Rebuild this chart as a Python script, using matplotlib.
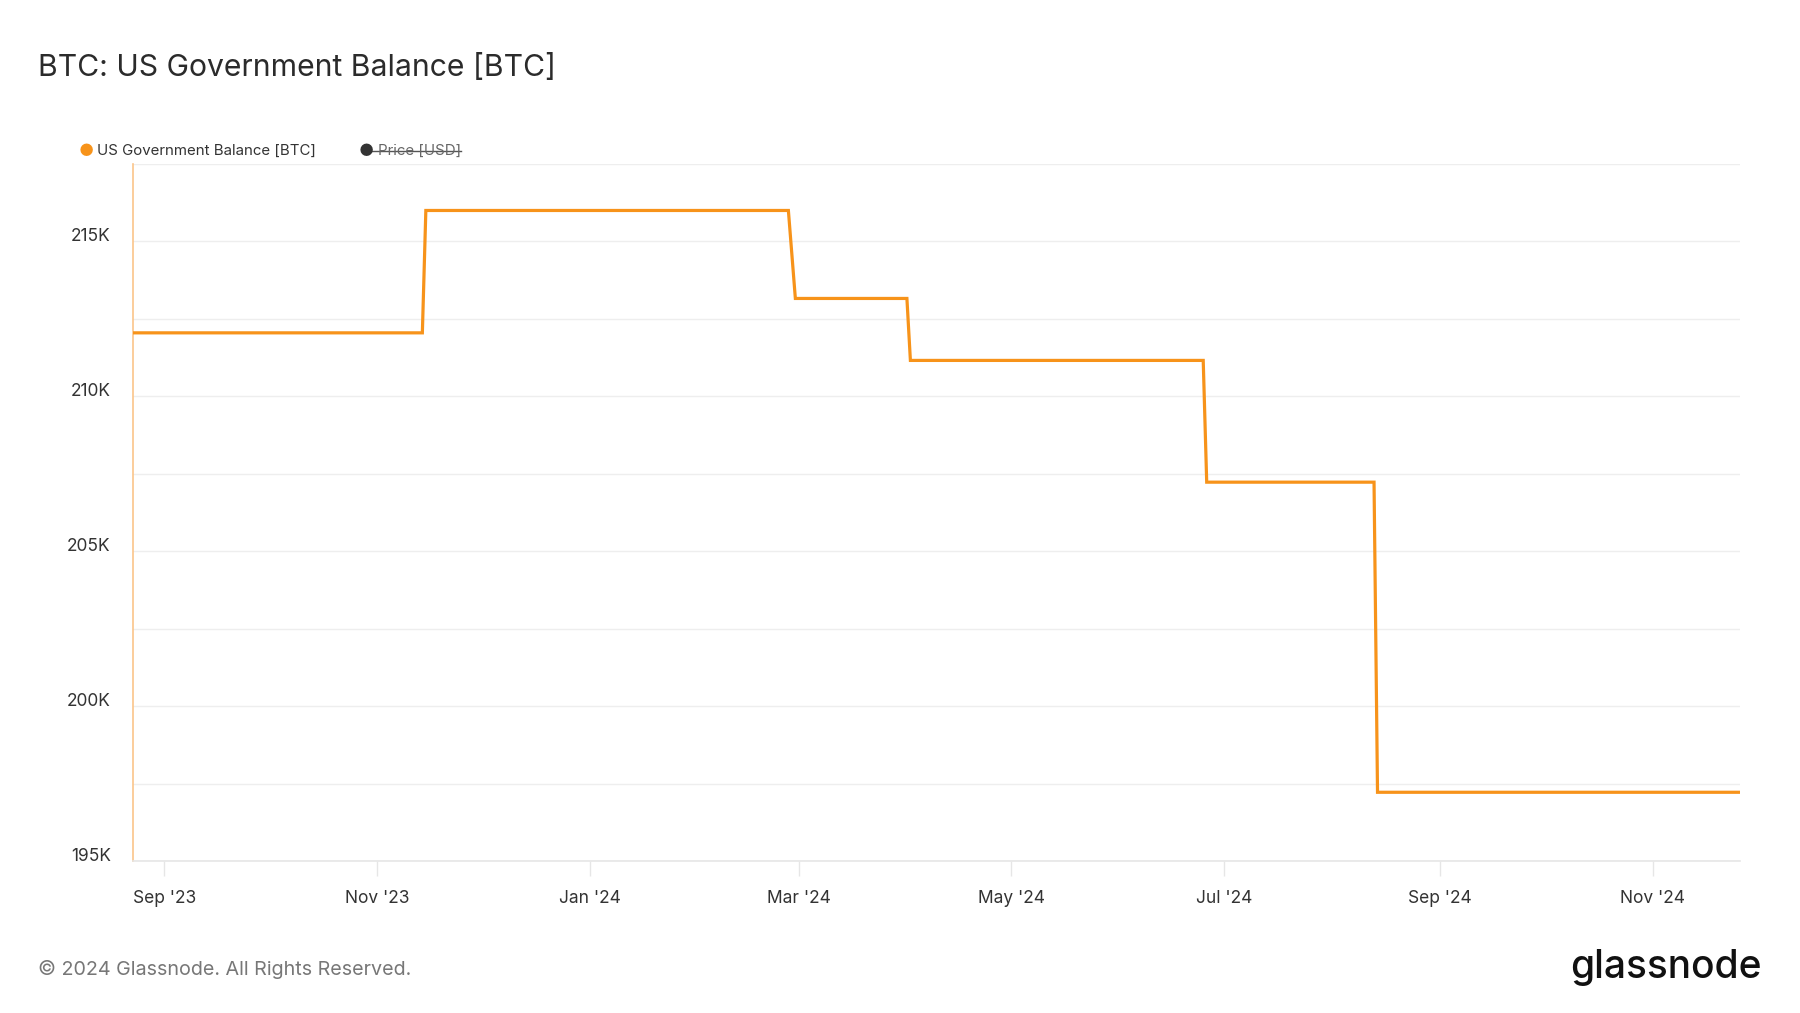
import matplotlib
matplotlib.use("Agg")
import matplotlib.pyplot as plt
import pandas as pd

plt.rcParams['font.family'] = ['Inter', 'DejaVu Sans']

# Step series breakpoints (date, balance in BTC)
dates = ["2023-08-23", "2023-11-14", "2023-11-15", "2024-02-27", "2024-02-29",
         "2024-04-01", "2024-04-02", "2024-06-25", "2024-06-26", "2024-08-13",
         "2024-08-14", "2024-11-26"]
balance = [212050, 212050, 216000, 216000, 213160, 213160, 211160, 211160,
           207230, 207230, 197220, 197220]

xtick_dates = ["2023-09-01", "2023-11-01", "2024-01-01", "2024-03-01",
               "2024-05-01", "2024-07-01", "2024-09-01", "2024-11-01"]
xtick_labels = ["Sep '23", "Nov '23", "Jan '24", "Mar '24", "May '24",
                "Jul '24", "Sep '24", "Nov '24"]
ytick_vals = [195000, 197500, 200000, 202500, 205000, 207500, 210000,
              212500, 215000, 217500]
ytick_labels = ["195K", "", "200K", "", "205K", "", "210K", "", "215K", ""]

ORANGE = "#f7931a"

fig = plt.figure(figsize=(18, 10.13), dpi=100)
ax = fig.add_axes([0.0739, 0.1500, 0.8928, 0.6881])

x = pd.to_datetime(dates)
ax.plot(x, balance, color=ORANGE, lw=2.3, solid_joinstyle='miter', zorder=3)

ax.set_xlim(pd.Timestamp("2023-08-23"), pd.Timestamp("2024-11-26"))
ax.set_ylim(195000, 217500)

ax.set_yticks(ytick_vals)
ax.set_yticklabels(ytick_labels)
ax.set_xticks(pd.to_datetime(xtick_dates))
ax.set_xticklabels(xtick_labels)

ax.grid(axis='y', color='#eeeeee', lw=1.0, zorder=0)
ax.tick_params(axis='y', length=0, pad=16, labelsize=12.5, labelcolor='#333333')
ax.tick_params(axis='x', length=11, width=1, color='#e6e6e6', pad=10,
               labelsize=12.5, labelcolor='#333333')
for lbl in ax.get_yticklabels():
    lbl.set_verticalalignment('baseline')

for s in ['top', 'right']:
    ax.spines[s].set_visible(False)
ax.spines['left'].set_color('#fbc58a')
ax.spines['left'].set_linewidth(1.2)
ax.spines['bottom'].set_color('#e6e6e6')
ax.spines['bottom'].set_linewidth(1.2)

# Title
fig.text(38/1800, 1 - 68/1013, "BTC: US Government Balance [BTC]", fontsize=21.7,
         color='#2b2b2b', va='center', ha='left')

# Legend
LY = 1 - 151/1013
fig.text(86/1800, LY, "\u25cf", fontsize=12, color=ORANGE, va='center', ha='center')
fig.text(97/1800, LY, "US Government Balance [BTC]", fontsize=10.8,
         color='#333333', va='center', ha='left')
fig.text(366/1800, LY, "\u25cf", fontsize=12, color='#333333', va='center', ha='center')
t = fig.text(378/1800, LY, "Price [USD]", fontsize=10.8,
             color='#666666', va='center', ha='left')
fig.canvas.draw()
bb = t.get_window_extent()
fig.add_artist(plt.Line2D([(bb.x0 - 10) / fig.bbox.width, bb.x1 / fig.bbox.width],
                          [LY, LY], color='#555555', lw=1.0,
                          transform=fig.transFigure))

# Footer
fig.text(38/1800, 1 - 969/1013, "\u00a9 2024 Glassnode. All Rights Reserved.",
         fontsize=14.2, color='#777777', va='center', ha='left')
fig.text(1762/1800, 1 - 967/1013, "glassnode", fontsize=28, color='#111111',
         va='center', ha='right', fontweight='medium')

fig.savefig("out.png", dpi=100, facecolor='white')
